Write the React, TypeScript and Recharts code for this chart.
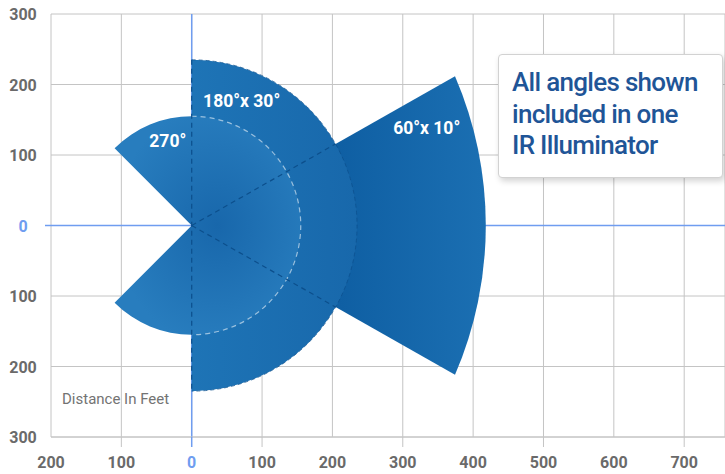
import React from 'react';
import { ScatterChart, Scatter, XAxis, YAxis, CartesianGrid, ReferenceLine, ReferenceArea } from 'recharts';

const xTicks = [-200, -100, 0, 100, 200, 300, 400, 500, 600, 700];
const yTicks = [-300, -200, -100, 0, 100, 200, 300];

// beam patterns, distances in feet from the illuminator
const beamNames = ['60°x 10°', '180°x 30°', '270°'];
const beamRanges = [430, 235, 155];
const beamHalfAngles = [29.5, 90, 135];
const beamArcReach = [418, 235, 155];
const beamLabelX = [334, 71, -34];
const beamLabelY = [138, 177, 120];

const noteLines = ['All angles shown', 'included in one', 'IR Illuminator'];
const origin = [{ x: 0, y: 0 }];

const GREY = '#6a6a6a';
const BLUE_LINE = '#6f9df0';
const FONT = 'Roboto, sans-serif';

const XTick = (props: any) => {
  const { x, y, payload } = props;
  const v = payload.value;
  const zero = v === 0;
  const mark = zero || Math.abs(v / 100) % 2 === 1;
  return (
    <g>
      {mark && <line x1={x} x2={x} y1={y} y2={y + 10} stroke={zero ? BLUE_LINE : '#c4c4c4'} strokeWidth={zero ? 1.5 : 1} />}
      <text x={x} y={y + 31} textAnchor="middle" fontFamily={FONT} fontSize={16} fontWeight={700} fill={zero ? BLUE_LINE : GREY}>
        {Math.abs(v)}
      </text>
    </g>
  );
};

const YTick = (props: any) => {
  const { x, y, payload } = props;
  const v = payload.value;
  const zero = v === 0;
  return (
    <g>
      {zero && <line x1={x - 6} x2={x} y1={y} y2={y} stroke={BLUE_LINE} strokeWidth={1.5} />}
      <text x={x - 28} y={y + 6} textAnchor="middle" fontFamily={FONT} fontSize={16} fontWeight={700} fill={zero ? BLUE_LINE : GREY}>
        {Math.abs(v)}
      </text>
    </g>
  );
};

const beamShape = (i: number, fill: string) => (props: any) => {
  const { x, y, width, height } = props;
  const r = beamRanges[i];
  const kx = width / (2 * r);
  const ky = height / (2 * r);
  const cx = x + width / 2;
  const cy = y + height / 2;
  const a = (beamHalfAngles[i] * Math.PI) / 180;
  const h = r * Math.sin(a);
  const chordX = r * Math.cos(a);
  const s = beamArcReach[i] - chordX;
  const R = (h * h + s * s) / (2 * s);
  const large = s > R ? 1 : 0;
  const px = cx + kx * chordX;
  const top = cy - ky * h;
  const bot = cy + ky * h;
  const d = `M${cx},${cy} L${px},${top} A${R * kx},${R * ky} 0 ${large} 1 ${px},${bot} Z`;
  const arc = `M${px},${top} A${R * kx},${R * ky} 0 ${large} 1 ${px},${bot}`;

  // inner guides drawn over the top pattern
  const r2 = beamRanges[1];
  const a0 = (beamHalfAngles[0] * Math.PI) / 180;
  const half = `M${cx},${cy - ky * r} A${kx * r},${ky * r} 0 0 1 ${cx},${cy + ky * r}`;

  return (
    <g>
      <path d={d} fill={fill} />
      {i === 1 && <path d={arc} fill="none" stroke="#0c4f8c" strokeWidth={1} strokeDasharray="4 3" strokeOpacity={0.7} />}
      {i === 2 && (
        <g>
          <path d={half} fill="none" stroke="rgba(255,255,255,0.55)" strokeWidth={1.2} strokeDasharray="5 4" />
          <line x1={cx} y1={cy - ky * r2} x2={cx} y2={cy + ky * r2} stroke="#0c4f8c" strokeWidth={1.2} strokeDasharray="5 4" />
          <line x1={cx} y1={cy} x2={cx + kx * r2 * Math.cos(a0)} y2={cy - ky * r2 * Math.sin(a0)} stroke="#0c4f8c" strokeWidth={1.2} strokeDasharray="5 4" />
          <line x1={cx} y1={cy} x2={cx + kx * r2 * Math.cos(a0)} y2={cy + ky * r2 * Math.sin(a0)} stroke="#0c4f8c" strokeWidth={1.2} strokeDasharray="5 4" />
        </g>
      )}
      <text
        x={cx + kx * beamLabelX[i]}
        y={cy - ky * beamLabelY[i]}
        textAnchor="middle"
        dominantBaseline="central"
        fontFamily={FONT}
        fontSize={17.5}
        fontWeight={700}
        fill="#ffffff"
      >
        {beamNames[i]}
      </text>
    </g>
  );
};

const fills = ['url(#g60)', 'url(#g180)', 'url(#g270)'];

export default function App() {
  return (
    <div style={{ position: 'absolute', left: 0, top: 0, width: 725, height: 474, background: '#fff' }}>
      <ScatterChart width={725} height={474} margin={{ top: 14, right: 0, bottom: 0, left: 0 }}>
        <defs>
          <linearGradient id="g60" x1="0" y1="0" x2="1" y2="0">
            <stop offset="0.5" stopColor="#0f5fa3" />
            <stop offset="1" stopColor="#1b6fb2" />
          </linearGradient>
          <linearGradient id="g180" x1="0" y1="0" x2="1" y2="0">
            <stop offset="0" stopColor="#1e74b6" />
            <stop offset="1" stopColor="#1868ab" />
          </linearGradient>
          <radialGradient id="g270" cx="0.55" cy="0.5" r="0.55">
            <stop offset="0" stopColor="#1867ab" />
            <stop offset="1" stopColor="#287dbe" />
          </radialGradient>
        </defs>
        <CartesianGrid stroke="#c4c4c4" />
        <XAxis
          type="number"
          dataKey="x"
          domain={[-200, 758]}
          ticks={xTicks}
          allowDataOverflow
          height={37}
          stroke="#c4c4c4"
          tickLine={false}
          tickSize={0}
          tickMargin={0}
          tick={<XTick />}
        />
        <YAxis
          type="number"
          dataKey="y"
          domain={[-300, 300]}
          ticks={yTicks}
          allowDataOverflow
          width={51}
          axisLine={false}
          tickLine={false}
          tickSize={0}
          tickMargin={0}
          tick={<YTick />}
        />
        <ReferenceLine x={0} stroke={BLUE_LINE} strokeWidth={1.5} zIndex={50} />
        <ReferenceLine y={0} stroke={BLUE_LINE} strokeWidth={1.5} zIndex={50} />
        {beamRanges.map((r, i) => (
          <ReferenceArea
            key={beamNames[i]}
            x1={-r}
            x2={r}
            y1={-r}
            y2={r}
            ifOverflow="visible"
            zIndex={100 + i}
            shape={beamShape(i, fills[i])}
          />
        ))}
        <Scatter data={origin} fill="none" isAnimationActive={false} />
      </ScatterChart>
      <div
        style={{
          position: 'absolute',
          left: 62,
          top: 389,
          fontFamily: FONT,
          fontSize: 15,
          color: '#737373',
          lineHeight: '20px',
        }}
      >
        Distance In Feet
      </div>
      <div
        style={{
          position: 'absolute',
          left: 498,
          top: 54,
          width: 225,
          height: 124,
          border: '1px solid #d2d2d2',
          borderRadius: 4,
          background: '#fff',
          boxShadow: '2px 3px 6px rgba(0,0,0,0.18)',
          paddingTop: 12,
          paddingLeft: 13,
          boxSizing: 'border-box',
          fontFamily: FONT,
          fontWeight: 500,
          fontSize: 26,
          letterSpacing: -0.7,
          lineHeight: '31.5px',
          color: '#1f5597',
          whiteSpace: 'nowrap',
        }}
      >
        {noteLines.map((t) => (
          <div key={t}>{t}</div>
        ))}
      </div>
    </div>
  );
}
